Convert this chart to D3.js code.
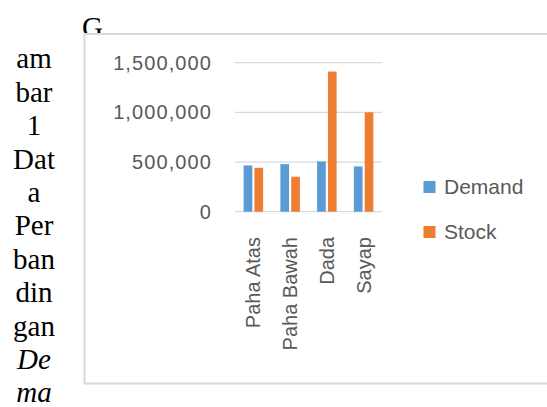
<!DOCTYPE html>
<html>
<head>
<meta charset="utf-8">
<script src="https://cdn.jsdelivr.net/npm/d3@7"></script>
<style>
    body { margin: 0; background: #fff; }
    svg { display: block; }
</style>
</head>
<body>
<svg id="chart" width="547" height="407"></svg>
<script>
// ------------------ DATA ------------------

let categories = ["Paha Atas", "Paha Bawah", "Dada", "Sayap"];
let seriesNames = ["Demand", "Stock"];
let demandValues = [466000, 479000, 506000, 456000];
let stockValues = [442000, 352000, 1411000, 1000000];
let yTicks = [0, 500000, 1000000, 1500000];

// caption text that wraps down the left side of the page
let captionLines = ["am", "bar", "1", "Dat", "a", "Per", "ban", "din", "gan", "De", "ma"];
let captionItalic = [false, false, false, false, false, false, false, false, false, true, true];

// ------------------ GLOBAL VARIABLES ------------------

let demandColor = "#5b9bd5";
let stockColor = "#ed7d31";
let gridColor = "#d9d9d9";
let labelColor = "#595959";
let svg = d3.select("#chart");

let plot = { left: 235, right: 382, top: 62.7, bottom: 211.7 };

// ------------------ CAPTION ------------------

function drawCaption() {
    // the "G" sits above the chart box and is partly hidden by it
    svg.append("text")
        .attr("x", 82)
        .attr("y", 36.5)
        .attr("font-family", "Liberation Serif, Times New Roman, serif")
        .attr("font-size", 29)
        .attr("fill", "#000")
        .text("G");

    svg.append("g")
        .selectAll("text")
        .data(captionLines)
        .enter().append("text")
        .attr("x", 34)
        .attr("y", (d, i) => { return 68.3 + i * 33.4 })
        .attr("text-anchor", "middle")
        .attr("font-family", "Liberation Serif, Times New Roman, serif")
        .attr("font-size", 29)
        .attr("font-style", (d, i) => { return captionItalic[i] ? "italic" : "normal" })
        .attr("fill", "#000")
        .text((d) => { return d });
}

// ------------------ CHART ------------------

function drawChart() {
    // chart frame
    svg.append("rect")
        .attr("x", 84.5)
        .attr("y", 34)
        .attr("width", 480)
        .attr("height", 349.5)
        .attr("fill", "#fff")
        .attr("stroke", gridColor)
        .attr("stroke-width", 2);

    let y = d3.scaleLinear()
        .domain([0, 1500000])
        .range([plot.bottom, plot.top]);

    let x0 = d3.scaleBand()
        .domain(categories)
        .range([plot.left, plot.right]);

    let groupWidth = 19.5;
    let x1 = d3.scaleBand()
        .domain(seriesNames)
        .range([0, groupWidth])
        .paddingInner(0.2);

    // gridlines
    svg.append("g")
        .selectAll("line")
        .data(yTicks)
        .enter().append("line")
        .attr("x1", plot.left)
        .attr("x2", plot.right)
        .attr("y1", (d) => { return y(d) })
        .attr("y2", (d) => { return y(d) })
        .attr("stroke", gridColor)
        .attr("stroke-width", 1.3);

    // y axis labels (axis line hidden, Excel style)
    let yAxis = svg.append("g")
        .attr("transform", "translate(212,0)")
        .call(d3.axisLeft(y).tickValues(yTicks).tickFormat(d3.format(",")).tickSize(0).tickPadding(0));
    yAxis.select(".domain").remove();
    yAxis.selectAll("text")
        .attr("font-family", "Liberation Sans, Arial, sans-serif")
        .attr("font-size", 20)
        .attr("letter-spacing", 1.1)
        .attr("fill", labelColor);

    // bars
    let rows = categories.map((c, i) => {
        return { category: c, values: [demandValues[i], stockValues[i]] };
    });

    let groups = svg.append("g")
        .selectAll("g")
        .data(rows)
        .enter().append("g")
        .attr("transform", (d) => {
            return "translate(" + (x0(d.category) + (x0.bandwidth() - groupWidth) / 2) + ",0)";
        });

    groups.selectAll("rect")
        .data((d) => { return d.values.map((v, j) => { return { name: seriesNames[j], value: v } }) })
        .enter().append("rect")
        .attr("x", (d) => { return x1(d.name) })
        .attr("y", (d) => { return y(d.value) })
        .attr("width", x1.bandwidth())
        .attr("height", (d) => { return y(0) - y(d.value) })
        .attr("fill", (d) => { return d.name == "Demand" ? demandColor : stockColor });

    // category labels, rotated
    let xAxis = svg.append("g")
        .attr("transform", "translate(0,237)")
        .call(d3.axisBottom(x0).tickSize(0).tickPadding(0));
    xAxis.select(".domain").remove();
    xAxis.selectAll("text")
        .attr("transform", "rotate(-90)")
        .attr("text-anchor", "end")
        .attr("x", 0)
        .attr("y", 0)
        .attr("dy", "0.35em")
        .attr("font-family", "Liberation Sans, Arial, sans-serif")
        .attr("font-size", 20)
        .attr("fill", labelColor);

    // legend
    let legend = svg.append("g")
        .selectAll("g")
        .data(seriesNames)
        .enter().append("g")
        .attr("transform", (d, i) => { return "translate(423.5," + (181 + i * 45) + ")" });

    legend.append("rect")
        .attr("width", 12)
        .attr("height", 12)
        .attr("fill", (d) => { return d == "Demand" ? demandColor : stockColor });

    legend.append("text")
        .attr("x", 20.5)
        .attr("y", 12.5)
        .attr("font-family", "Liberation Sans, Arial, sans-serif")
        .attr("font-size", 21)
        .attr("fill", labelColor)
        .text((d) => { return d });
}

drawCaption();
drawChart();
</script>
</body>
</html>
